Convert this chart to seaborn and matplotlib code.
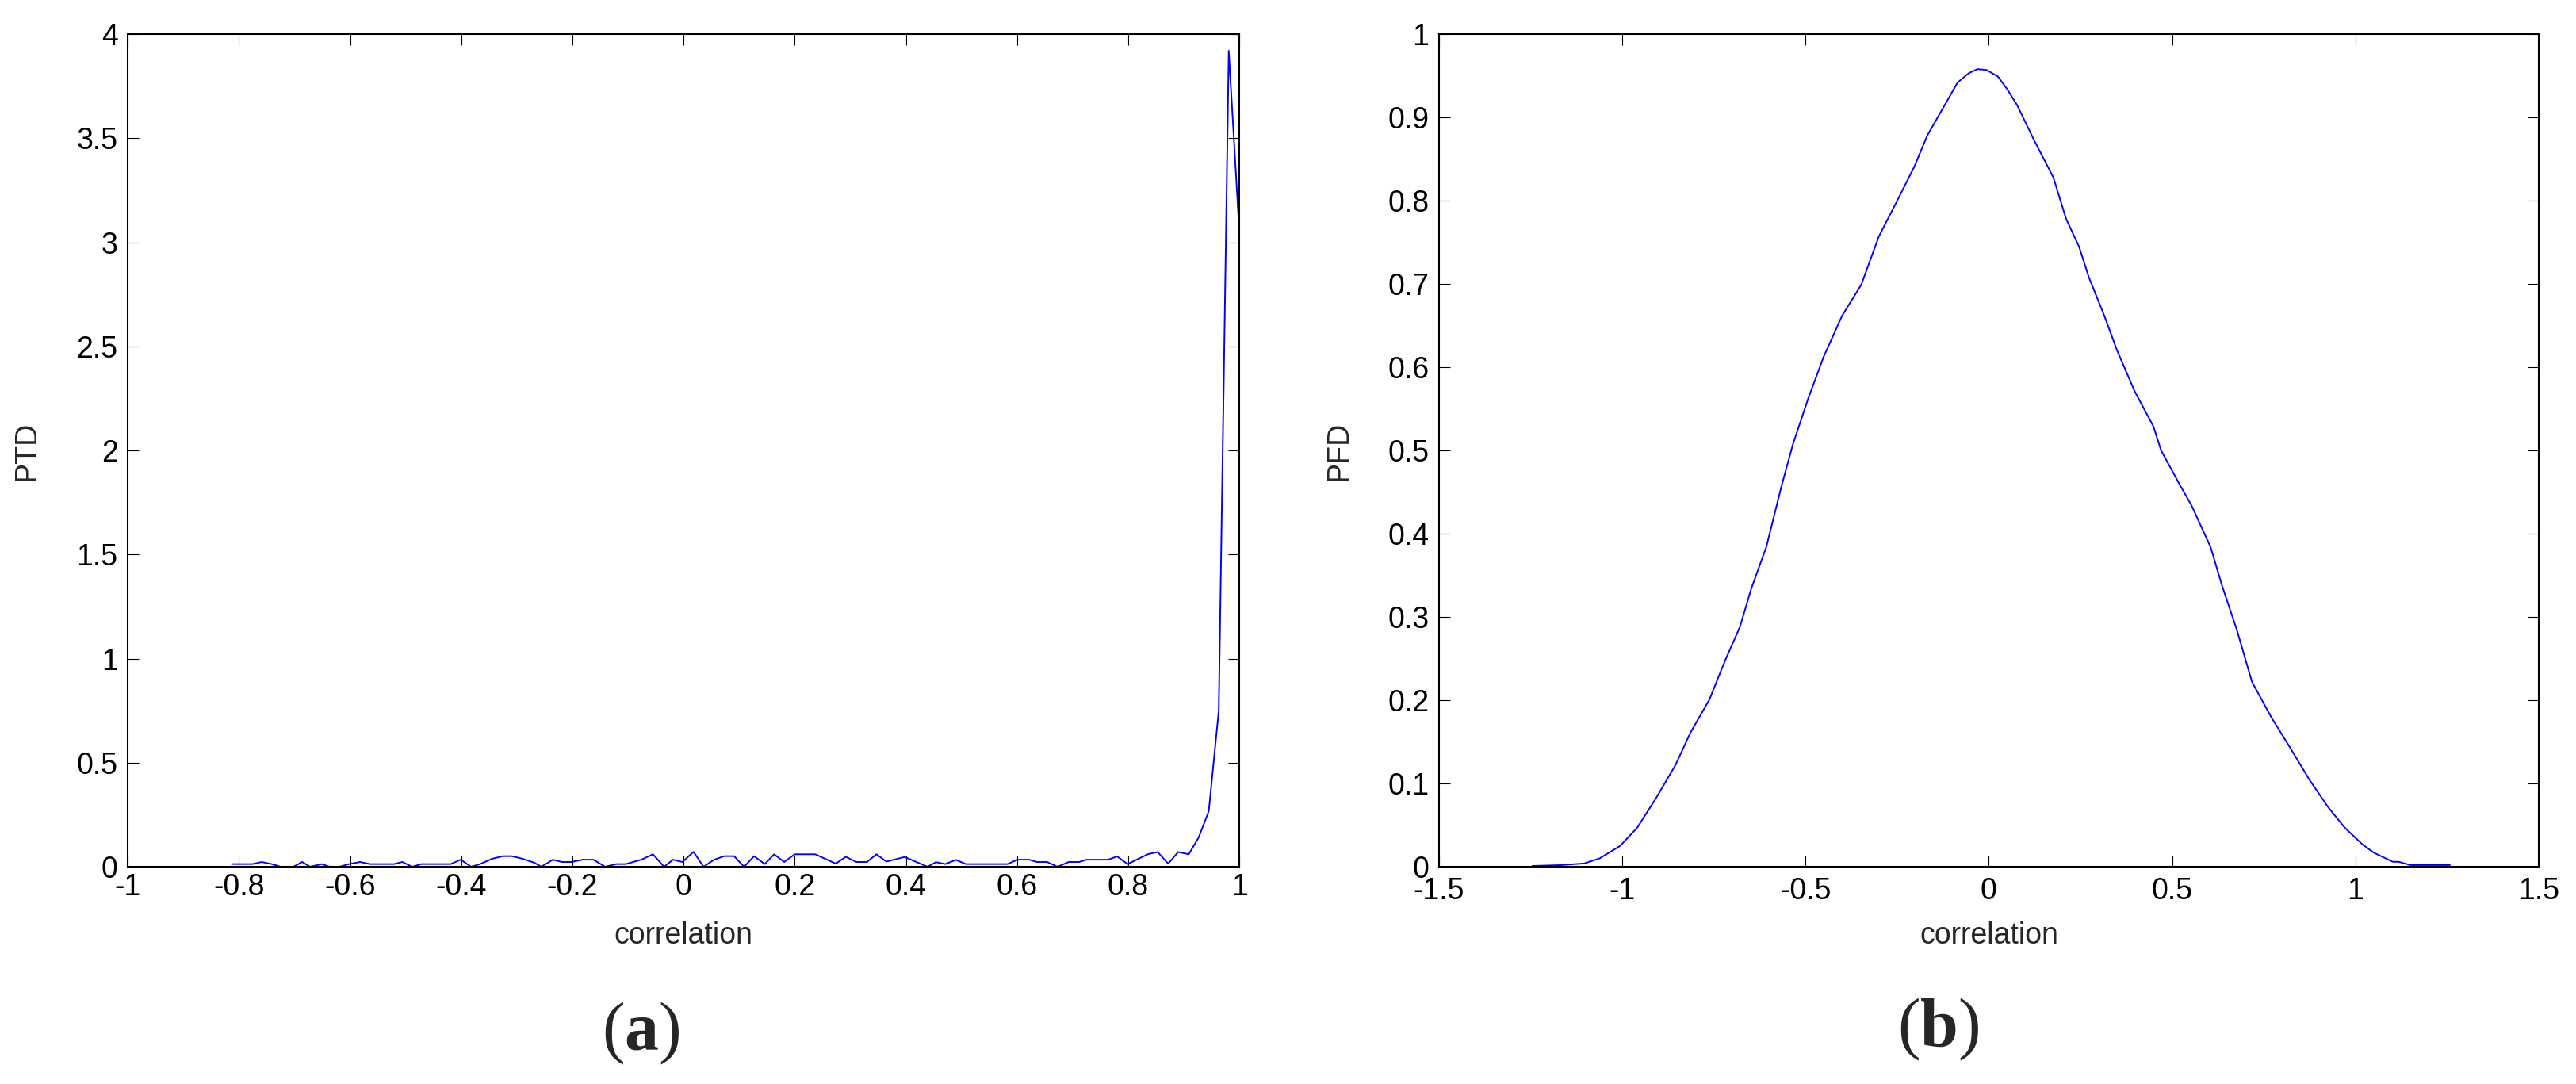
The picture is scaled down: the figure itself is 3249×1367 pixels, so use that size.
import pandas as pd
import matplotlib
matplotlib.use("Agg")
import matplotlib.pyplot as plt
import seaborn as sns

# (a) PTD of correlation
ptd_corr = [-0.813, -0.776, -0.759, -0.741, -0.725, -0.702, -0.686, -0.672, -0.651, -0.637,
            -0.619, -0.602, -0.582, -0.564, -0.521, -0.506, -0.488, -0.472, -0.419, -0.401,
            -0.382, -0.366, -0.345, -0.325, -0.309, -0.289, -0.268, -0.256, -0.235, -0.219,
            -0.202, -0.182, -0.162, -0.141, -0.121, -0.104, -0.076, -0.055, -0.035, -0.019,
            -0.002, 0.018, 0.036, 0.055, 0.073, 0.091, 0.109, 0.127, 0.146, 0.163,
            0.181, 0.200, 0.237, 0.274, 0.292, 0.311, 0.330, 0.347, 0.365, 0.398,
            0.439, 0.454, 0.471, 0.490, 0.508, 0.583, 0.601, 0.622, 0.636, 0.654,
            0.673, 0.693, 0.712, 0.725, 0.764, 0.780, 0.799, 0.836, 0.853, 0.872,
            0.890, 0.909, 0.927, 0.945, 0.963, 0.981, 1.000]
ptd_vals = [0.013, 0.013, 0.023, 0.013, 0.0, 0.0, 0.023, 0.0, 0.013, 0.0,
            0.0, 0.013, 0.023, 0.013, 0.013, 0.023, 0.0, 0.013, 0.013, 0.034,
            0.0, 0.013, 0.038, 0.051, 0.051, 0.038, 0.019, 0.0, 0.034, 0.023,
            0.023, 0.034, 0.034, 0.0, 0.013, 0.013, 0.034, 0.060, 0.0, 0.034,
            0.023, 0.072, 0.0, 0.034, 0.051, 0.051, 0.0, 0.051, 0.013, 0.060,
            0.023, 0.060, 0.060, 0.015, 0.048, 0.023, 0.023, 0.060, 0.025, 0.047,
            0.0, 0.022, 0.013, 0.033, 0.013, 0.013, 0.034, 0.034, 0.023, 0.023,
            0.0, 0.023, 0.023, 0.034, 0.034, 0.050, 0.013, 0.061, 0.071, 0.015,
            0.071, 0.060, 0.142, 0.267, 0.75, 3.92, 3.05]

# (b) PFD of correlation
pfd_corr = [-1.245, -1.166, -1.104, -1.062, -1.006, -0.959, -0.907, -0.855, -0.814, -0.762,
            -0.720, -0.679, -0.648, -0.607, -0.565, -0.534, -0.493, -0.451, -0.400, -0.348,
            -0.300, -0.251, -0.203, -0.168, -0.120, -0.085, -0.055, -0.031, -0.006, 0.025,
            0.050, 0.077, 0.122, 0.176, 0.211, 0.246, 0.273, 0.315, 0.350, 0.398,
            0.449, 0.470, 0.522, 0.553, 0.605, 0.636, 0.677, 0.718, 0.770, 0.822,
            0.874, 0.925, 0.971, 1.019, 1.050, 1.102, 1.118, 1.150, 1.258]
pfd_vals = [0.001, 0.002, 0.004, 0.010, 0.025, 0.047, 0.083, 0.122, 0.161, 0.201,
            0.247, 0.288, 0.334, 0.384, 0.458, 0.508, 0.562, 0.612, 0.662, 0.699,
            0.757, 0.799, 0.841, 0.878, 0.915, 0.942, 0.953, 0.958, 0.957, 0.949,
            0.934, 0.915, 0.874, 0.828, 0.778, 0.745, 0.708, 0.662, 0.620, 0.571,
            0.529, 0.500, 0.458, 0.434, 0.384, 0.338, 0.284, 0.222, 0.180, 0.143,
            0.105, 0.072, 0.047, 0.027, 0.017, 0.006, 0.006, 0.002, 0.002]

ptd_xticks = [-1, -0.8, -0.6, -0.4, -0.2, 0, 0.2, 0.4, 0.6, 0.8, 1]
ptd_yticks = [0, 0.5, 1, 1.5, 2, 2.5, 3, 3.5, 4]
pfd_xticks = [-1.5, -1, -0.5, 0, 0.5, 1, 1.5]
pfd_yticks = [0, 0.1, 0.2, 0.3, 0.4, 0.5, 0.6, 0.7, 0.8, 0.9, 1]

sns.set_style("ticks")
plt.rcParams["font.family"] = ["Liberation Sans", "DejaVu Sans"]
plt.rcParams["axes.unicode_minus"] = False
plt.rcParams["mathtext.fontset"] = "custom"
plt.rcParams["mathtext.bf"] = "Liberation Serif:bold"
plt.rcParams["mathtext.rm"] = "Liberation Serif"

fig = plt.figure(figsize=(32.49, 13.67), dpi=100)
ax1 = fig.add_axes([0.0496, 0.2004, 0.4315, 0.7681])
ax2 = fig.add_axes([0.5586, 0.2004, 0.4269, 0.7681])

df_a = pd.DataFrame({"correlation": ptd_corr, "PTD": ptd_vals})
df_b = pd.DataFrame({"correlation": pfd_corr, "PFD": pfd_vals})

sns.lineplot(data=df_a, x="correlation", y="PTD", ax=ax1, color="#0000FF",
             linewidth=1.4, estimator=None)
sns.lineplot(data=df_b, x="correlation", y="PFD", ax=ax2, color="#0000FF",
             linewidth=1.4, estimator=None)


def fmt(v):
    return ("%g" % v)


for ax, xt, yt, xl, yl, xpad in [(ax1, ptd_xticks, ptd_yticks, (-1, 1), (0, 4), 6),
                                 (ax2, pfd_xticks, pfd_yticks, (-1.5, 1.5), (0, 1), 9)]:
    ax.set_xlim(*xl)
    ax.set_ylim(*yl)
    ax.set_xticks(xt)
    ax.set_xticklabels([fmt(v) for v in xt])
    ax.set_yticks(yt)
    ax.set_yticklabels([fmt(v) for v in yt])
    ax.tick_params(direction="in", length=10, width=0.8, top=True, right=True,
                   labelsize=27, colors="black")
    ax.tick_params(axis="x", pad=xpad)
    ax.tick_params(axis="y", pad=9)
    for s in ax.spines.values():
        s.set_visible(True)
        s.set_linewidth(1.5)
        s.set_color("black")
    ax.set_xlabel("correlation", fontsize=27)
    ax.xaxis.set_label_coords(0.5, -0.066)

ax1.set_ylabel("PTD", fontsize=27)
ax2.set_ylabel("PFD", fontsize=27)
ax1.yaxis.set_label_coords(-0.078, 0.5)
ax2.yaxis.set_label_coords(-0.078, 0.5)

fig.text(808 / 3249, 1 - 1303 / 1367, r"$\mathrm{(}\mathbf{a}\mathrm{)}$",
         fontsize=62, ha="center", va="center")
fig.text(2445 / 3249, 1 - 1298 / 1367, r"$\mathrm{(}\mathbf{b}\mathrm{)}$",
         fontsize=62, ha="center", va="center")

fig.savefig("out.png", dpi=100, facecolor="white")
